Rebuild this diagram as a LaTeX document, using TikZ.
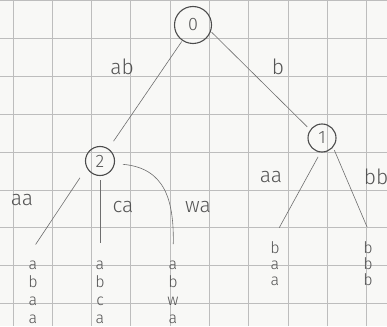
\documentclass[tikz,border=0pt]{standalone}
\usepackage{fontspec}
\setmainfont{Fira Sans Light}
\usepackage{xcolor}
\usetikzlibrary{positioning}
\definecolor{pencil}{HTML}{555555}
\definecolor{paper}{HTML}{F8F8F6}
\definecolor{gridline}{HTML}{BDBDBD}

\begin{document}
\begin{tikzpicture}[x=1pt, y=-1pt,
    vertex/.style={draw=pencil!90!black, circle, line width=1.1pt, text=pencil, inner sep=0pt, font=\fontsize{18}{18}\selectfont},
    edge/.style={draw=pencil!85, line width=0.6pt},
    lbl/.style={text=pencil, inner sep=0pt, font=\fontsize{21}{21}\selectfont},
    leaf/.style={text=pencil, inner sep=0pt, align=center, anchor=base}]
    \useasboundingbox (0,0) rectangle (387,326);
    \clip (0,0) rectangle (387,326);
    \fill[paper] (0,0) rectangle (387,326);

    % squared paper
    \foreach \x in {0,...,9}
        \draw[gridline, line width=1pt] ({13+39.3*\x},0) -- ({13+39.3*\x},326);
    \foreach \y in {0,...,8}
        \draw[gridline, line width=1pt] (0,{0.5+37.9*\y}) -- (387,{0.5+37.9*\y});

    % states
    \node[vertex, minimum size=37pt] (n0) at (193, 25) {0};
    \node[vertex, minimum size=28pt] (n1) at (322, 138) {1};
    \node[vertex, minimum size=29pt] (n2) at (100, 161) {2};

    % remaining strings (base = last line)
    \node[leaf, font=\fontsize{16}{17.7}\selectfont] (l2a) at (33, 323) {a\\b\\a\\a};
    \node[leaf, font=\fontsize{16}{17.7}\selectfont] (l2c) at (100, 323) {a\\b\\c\\a};
    \node[leaf, font=\fontsize{16}{17.7}\selectfont] (l2w) at (173, 323) {a\\b\\w\\a};
    \node[leaf, font=\fontsize{16}{16}\selectfont] (l1a) at (275, 285) {b\\a\\a};
    \node[leaf, font=\fontsize{16}{16}\selectfont] (l1b) at (368, 285) {b\\b\\b};

    % edges
    \draw[edge, shorten <=1pt, shorten >=9pt] (n0) -- (n2);
    \draw[edge, shorten <=1pt, shorten >=4pt] (n0.-20) -- (n1.145);
    \draw[edge, shorten <=12pt, shorten >=20pt] (n2.207) -- ([xshift=-8.5pt]l2a.north);
    \draw[edge, shorten <=4pt, shorten >=18pt] (n2) -- (l2c.north);
    \draw[edge, shorten <=8pt, shorten >=17pt] (n2.-10) .. controls (165, 168) and (174, 200) .. (l2w.north);
    \draw[edge, shorten <=5pt, shorten >=15pt] (n1.-96) -- ([xshift=-3pt]l1a.north);
    \draw[edge, shorten <=3pt, shorten >=15pt] (n1.-40) -- ([xshift=5pt]l1b.north);

    % edge labels
    \node[lbl] (ab) at (122, 67) {ab};
    \node[lbl] (b) at (278, 67) {b};
    \node[lbl] (aa2) at (22, 200) {aa};
    \node[lbl] (ca) at (123, 207) {ca};
    \node[lbl] (wa) at (198, 207) {wa};
    \node[lbl] (aa1) at (271, 177) {aa};
    \node[lbl] (bb) at (376, 177) {bb};
\end{tikzpicture}
\end{document}
